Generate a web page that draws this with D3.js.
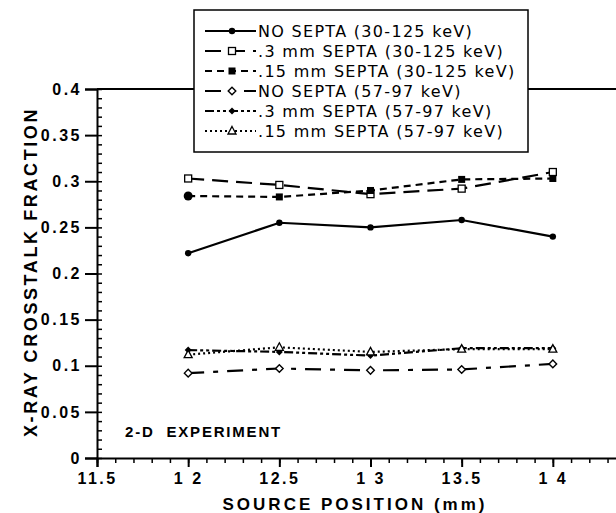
<!DOCTYPE html>
<html><head><meta charset="utf-8">
<script src="https://cdn.jsdelivr.net/npm/d3@7"></script>
<style>body{margin:0;background:#fff}svg{display:block}text{font-family:"Liberation Sans",Arial,Helvetica,sans-serif;fill:#000}</style>
</head><body><svg id="c" width="616" height="513"></svg>
<script>
const positions = [12, 12.5, 13, 13.5, 14];
const noSepta30 = [0.222, 0.255, 0.250, 0.258, 0.240];
const septa03_30 = [0.303, 0.296, 0.286, 0.292, 0.310];
const septa015_30 = [0.284, 0.283, 0.290, 0.302, 0.303];
const noSepta57 = [0.092, 0.097, 0.095, 0.096, 0.102];
const septa03_57 = [0.117, 0.115, 0.111, 0.119, 0.119];
const septa015_57 = [0.112, 0.120, 0.115, 0.118, 0.118];
const seriesNames = ["NO SEPTA (30-125 keV)", ".3 mm SEPTA (30-125 keV)", ".15 mm SEPTA (30-125 keV)",
  "NO SEPTA (57-97 keV)", ".3 mm SEPTA (57-97 keV)", ".15 mm SEPTA (57-97 keV)"];
const xTicks = [11.5, 12, 12.5, 13, 13.5, 14];
const xTickLabels = ["11.5", "1 2", "12.5", "1 3", "13.5", "1 4"];
const yTicks = [0, 0.05, 0.1, 0.15, 0.2, 0.25, 0.3, 0.35, 0.4];
const yTickLabels = ["0", "0.05", "0.1", "0.15", "0.2", "0.25", "0.3", "0.35", "0.4"];

const styles = [
  {dash: null, marker: "circleF"},
  {dash: "16,8", marker: "squareO"},
  {dash: "7,5", marker: "squareF"},
  {dash: "16,9,5,9", marker: "diamondO"},
  {dash: "9,3,3,3,3,3", marker: "diamondF"},
  {dash: "2,3", marker: "triangleO"}
];
const allSeries = [noSepta30, septa03_30, septa015_30, noSepta57, septa03_57, septa015_57];

const svg = d3.select("#c");
const x = d3.scaleLinear().domain([11.5, 14.5]).range([97, 644]);
const y = d3.scaleLinear().domain([0, 0.4]).range([458, 89]);

// y axis
const gy = svg.append("g").attr("transform", "translate(97,0)");
gy.call(d3.axisLeft(y).tickValues(yTicks).tickSize(12).tickFormat((d,i)=>yTickLabels[i]).tickPadding(3));
gy.select(".domain").attr("stroke-width", 2);
gy.selectAll(".tick line").attr("stroke-width", 2);
gy.selectAll(".tick text").style("font-size", "16px").style("font-weight", "bold").style("letter-spacing", "2.5px");
const gyMinor = svg.append("g").attr("transform", "translate(97,0)");
gyMinor.call(d3.axisRight(y).tickValues(d3.range(0, 0.4001, 0.01)).tickSize(5).tickFormat(""));
gyMinor.select(".domain").remove();
gyMinor.selectAll(".tick line").attr("stroke-width", 1.5);

// x axis
const gx = svg.append("g").attr("transform", "translate(0,458)");
gx.call(d3.axisBottom(x).tickValues(xTicks).tickSize(9).tickFormat((d,i)=>xTickLabels[i]).tickPadding(6));
gx.select(".domain").attr("stroke-width", 2);
gx.selectAll(".tick line").attr("stroke-width", 2);
gx.selectAll(".tick text").style("font-size", "16px").style("font-weight", "bold").style("letter-spacing", "2.5px");
const gxMinor = svg.append("g").attr("transform", "translate(0,458)");
gxMinor.call(d3.axisBottom(x).tickValues(d3.range(11.5, 14.501, 0.1)).tickSize(5).tickFormat(""));
gxMinor.select(".domain").remove();
gxMinor.selectAll(".tick line").attr("stroke-width", 1.5);

// top frame line
svg.append("line").attr("x1", 97).attr("x2", 616).attr("y1", y(0.4)).attr("y2", y(0.4)).attr("stroke", "#000").attr("stroke-width", 2);

// titles
svg.append("text").attr("transform", "translate(37,272) rotate(-90)").attr("text-anchor", "middle")
  .style("font-size", "18px").style("font-weight", "bold").style("letter-spacing", "2.6px").text("X-RAY CROSSTALK FRACTION");
svg.append("text").attr("x", 355).attr("y", 510).attr("text-anchor", "middle")
  .style("font-size", "17px").style("font-weight", "bold").style("letter-spacing", "3px").text("SOURCE POSITION (mm)");
svg.append("text").attr("x", 125).attr("y", 437).attr("xml:space", "preserve")
  .style("font-size", "15px").style("font-weight", "bold").style("letter-spacing", "1.8px").text("2-D  EXPERIMENT");

function drawMarker(g, type, cx, cy, big) {
  const s = big ? 1.4 : 1;
  if (type === "circleF") g.append("circle").attr("cx", cx).attr("cy", cy).attr("r", 3.2*s).attr("fill", "#000");
  else if (type === "squareO") g.append("rect").attr("x", cx-3.5).attr("y", cy-3.5).attr("width", 7).attr("height", 7).attr("fill", "#fff").attr("stroke", "#000").attr("stroke-width", 1.3);
  else if (type === "squareF") g.append("rect").attr("x", cx-3.5*s).attr("y", cy-3.5*s).attr("width", 7*s).attr("height", 7*s).attr("fill", "#000");
  else if (type === "diamondO") g.append("path").attr("d", `M${cx},${cy-3.8}L${cx+3.8},${cy}L${cx},${cy+3.8}L${cx-3.8},${cy}Z`).attr("fill", "#fff").attr("stroke", "#000").attr("stroke-width", 1.4);
  else if (type === "diamondF") g.append("path").attr("d", `M${cx},${cy-3.5}L${cx+3.5},${cy}L${cx},${cy+3.5}L${cx-3.5},${cy}Z`).attr("fill", "#000");
  else if (type === "triangleO") g.append("path").attr("d", `M${cx},${cy-4.5}L${cx+4},${cy+3}L${cx-4},${cy+3}Z`).attr("fill", "#fff").attr("stroke", "#000").attr("stroke-width", 1.3);
}

const line = d3.line().x((d,i)=>x(positions[i])).y(d=>y(d));
allSeries.forEach((vals, k) => {
  const g = svg.append("g");
  g.append("path").datum(vals).attr("d", line).attr("fill", "none").attr("stroke", "#000")
    .attr("stroke-width", 2.2).attr("stroke-dasharray", styles[k].dash);
  vals.forEach((v, i) => {
    const big = (k === 2 && i === 0);
    drawMarker(g, big ? "circleF" : styles[k].marker, x(positions[i]), y(v), big);
  });
});

// legend
const lg = svg.append("g");
const lx = 194, ly = 10, lw = 334, lh = 142;
lg.append("rect").attr("x", lx).attr("y", ly).attr("width", lw).attr("height", lh).attr("fill", "#fff").attr("stroke", "#000").attr("stroke-width", 1.5);
seriesNames.forEach((name, k) => {
  const yy = 31 + k*20;
  lg.append("line").attr("x1", 205).attr("x2", 256).attr("y1", yy).attr("y2", yy).attr("stroke", "#000")
    .attr("stroke-width", 2).attr("stroke-dasharray", styles[k].dash);
  drawMarker(lg, styles[k].marker, 232, yy, false);
  lg.append("text").attr("x", 258).attr("y", yy + 6).style("font-family", "'DejaVu Sans', sans-serif")
    .style("font-size", "16px").style("letter-spacing", "1.3px").text(name);
});
</script></body></html>
